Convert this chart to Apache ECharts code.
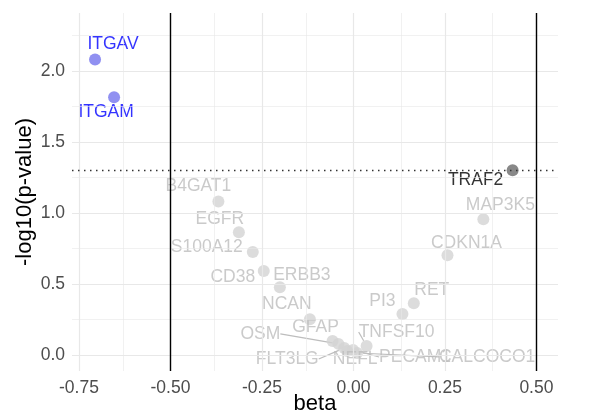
<!DOCTYPE html>
<html>
<head>
<meta charset="utf-8">
<script src="https://cdn.jsdelivr.net/npm/echarts@6/dist/echarts.min.js"></script>
<style>html,body{margin:0;padding:0;background:#fff;}#chart{width:590px;height:418px;}</style>
</head>
<body>
<div id="chart"></div>
<script>
// ---- data ----
const genes = ['ITGAV','ITGAM','TRAF2','MAP3K5','CDKN1A','RET','PI3','TNFSF10','B4GAT1','EGFR','S100A12','CD38','ERBB3','NCAN','GFAP','OSM','FLT3LG','NEFL','PECAM1','CALCOCO1'];
const beta = [-0.706,-0.654,0.435,0.355,0.257,0.165,0.134,0.036,-0.369,-0.313,-0.275,-0.245,-0.201,-0.119,-0.057,-0.041,-0.025,-0.017,-0.001,0.010];
const negLog10P = [2.08,1.815,1.30,0.956,0.702,0.364,0.289,0.063,1.08,0.864,0.725,0.592,0.477,0.251,0.099,0.078,0.049,0.028,0.035,0.014];
const groupOf = ['neg','neg','sig','ns','ns','ns','ns','ns','ns','ns','ns','ns','ns','ns','ns','ns','ns','ns','ns','ns'];
const xTicks = [-0.75,-0.5,-0.25,0,0.25,0.5];
const xMinor = [-0.625,-0.375,-0.125,0.125,0.375];
const yTicks = [0,0.5,1,1.5,2];
const yMinor = [0.25,0.75,1.25,1.75,2.25];
const betaCut = [-0.5,0.5];
const pCut = -Math.log10(0.05);

// ---- styles ----
const labelShift = {
  ITGAV:[18,-15], ITGAM:[-8,15], TRAF2:[-37,10], MAP3K5:[17,-14], CDKN1A:[19,-12],
  RET:[18,-13], PI3:[-20,-13], TNFSF10:[30,-14], B4GAT1:[-20,-15], EGFR:[-19,-13],
  S100A12:[-46,-5], CD38:[-31,6], ERBB3:[22,-12], NCAN:[-23,-15], GFAP:[-17,-14],
  OSM:[-78,-10], FLT3LG:[-57,11], NEFL:[8,8], PECAM1:[62,7], CALCOCO1:[130,4]
};
const withLine = {OSM:1, FLT3LG:1, NEFL:1, PECAM1:1, CALCOCO1:1, TNFSF10:1};
const styleOf = {
  neg:{point:'#7474ee', text:'#0000ff'},
  sig:{point:'#6a6a6a', text:'#000000'},
  ns:{point:'#d3d3d3', text:'#bdbdbd'}
};
const font = 'Liberation Sans, Arial, sans-serif';

const order = genes.map((g,i)=>i).sort((a,b)=>(groupOf[a]==='ns'?0:1)-(groupOf[b]==='ns'?0:1));
const pts = order.map(i=>({
  name: genes[i],
  value:[beta[i], negLog10P[i]],
  itemStyle:{color:styleOf[groupOf[i]].point},
  label:{color:styleOf[groupOf[i]].text},
  labelLine:{show: !!withLine[genes[i]]}
}));

const chart = echarts.init(document.getElementById('chart'));
const gridLine = (w)=>({color:'#e8e8e8', width:w, type:'solid'});
chart.setOption({
  animation:false,
  backgroundColor:'#ffffff',
  grid:{left:72, right:32, top:13, bottom:47, containLabel:false, outerBoundsMode:'none'},
  xAxis:{
    type:'value', min:-0.769, max:0.559,
    name:'beta', nameLocation:'middle', nameGap:22, nameMoveOverlap:false,
    nameTextStyle:{color:'#000', fontSize:22, fontFamily:font},
    axisLine:{show:false}, axisTick:{show:false}, splitLine:{show:false},
    axisLabel:{customValues:xTicks, color:'#4d4d4d', fontSize:17.5, fontFamily:font, margin:8,
      formatter:v=>v.toFixed(2)}
  },
  yAxis:{
    type:'value', min:-0.113, max:2.408,
    name:'-log10(p-value)', nameLocation:'middle', nameGap:36, nameRotate:90, nameMoveOverlap:false,
    nameTextStyle:{color:'#000', fontSize:22, fontFamily:font},
    axisLine:{show:false}, axisTick:{show:false}, splitLine:{show:false},
    axisLabel:{customValues:yTicks, color:'#4d4d4d', fontSize:17.5, fontFamily:font, margin:7,
      formatter:v=>v.toFixed(1)}
  },
  series:[
    {
      type:'scatter', data:[], z:0, silent:true,
      markLine:{
        silent:true, symbol:['none','none'], label:{show:false}, animation:false,
        data:[
          ...xMinor.map(v=>({xAxis:v, lineStyle:gridLine(0.6)})),
          ...yMinor.map(v=>({yAxis:v, lineStyle:gridLine(0.6)})),
          ...xTicks.map(v=>({xAxis:v, lineStyle:gridLine(1.2)})),
          ...yTicks.map(v=>({yAxis:v, lineStyle:gridLine(1.2)}))
        ]
      }
    },
    {
      type:'scatter', data:[], z:1, silent:true,
      markLine:{
        silent:true, symbol:['none','none'], label:{show:false}, animation:false,
        data:[
          ...betaCut.map(v=>({xAxis:v, lineStyle:{color:'#000', width:1.4, type:'solid'}})),
          {yAxis:pCut, lineStyle:{color:'#333', width:1.4, type:[1.5,4.5]}}
        ]
      }
    },
    {
      type:'scatter', z:3, symbolSize:12,
      data:pts,
      label:{show:true, position:'inside', formatter:p=>p.name, fontSize:17.5, fontFamily:font},
      labelLine:{show:false, lineStyle:{color:'#bdbdbd', width:1.2}},
      labelLayout:function(p){
        const s = labelShift[pts[p.dataIndex].name] || [0,0];
        return {dx:s[0], dy:s[1]};
      }
    }
  ]
});
</script>
</body>
</html>
